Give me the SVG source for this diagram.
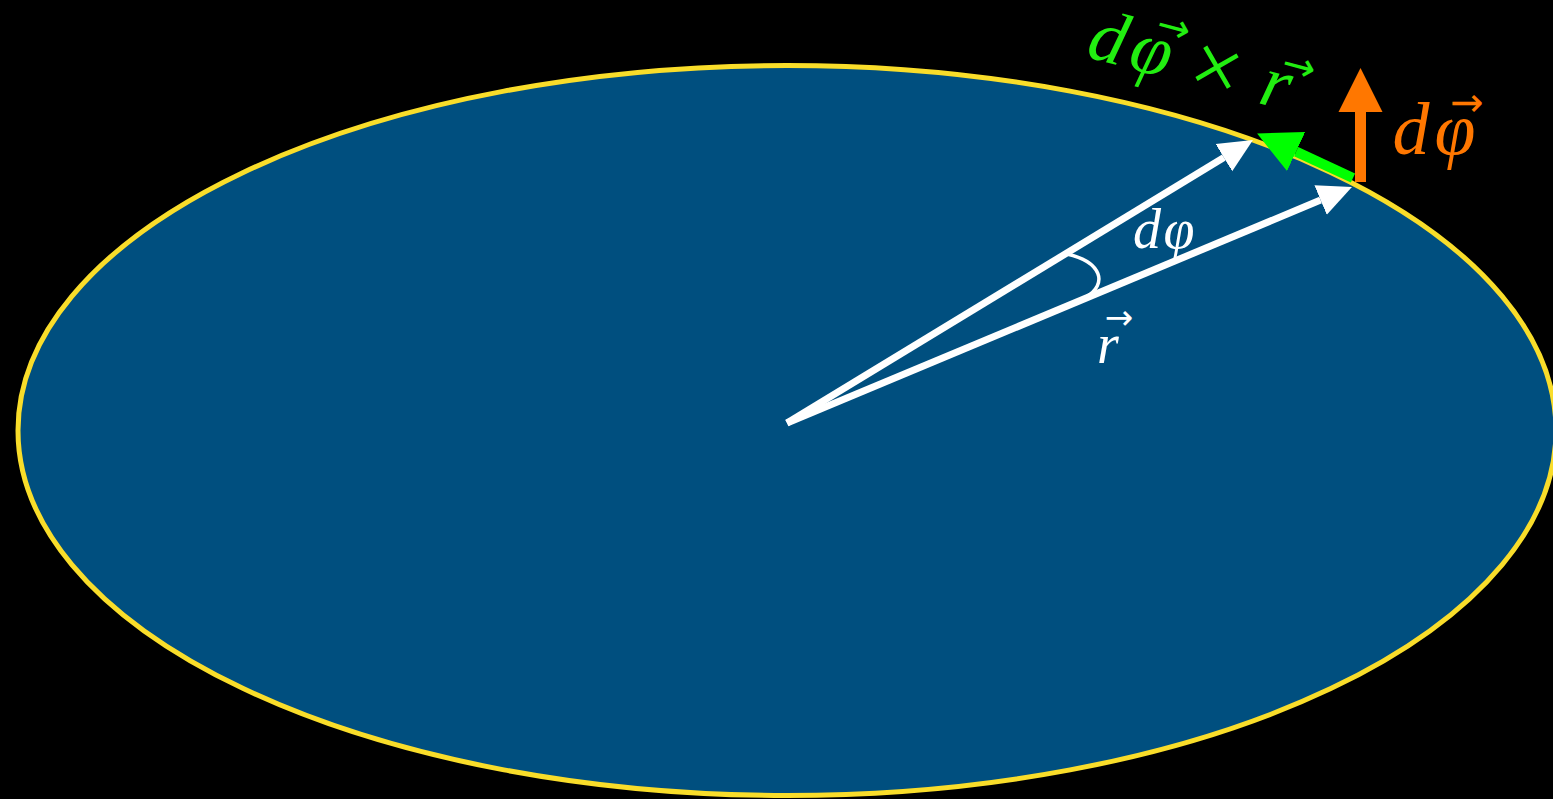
<svg xmlns="http://www.w3.org/2000/svg" width="1553" height="799" viewBox="0 0 1553 799">
<style>
  .m { font-family: "Liberation Serif", "DejaVu Serif", serif; font-style: italic; text-anchor: middle; }
  .u { font-family: "Liberation Serif", "DejaVu Serif", serif; font-style: normal; text-anchor: middle; }
  .ar { font-family: "DejaVu Sans", sans-serif; font-style: normal; text-anchor: middle; }
  .w { fill: #ffffff; }
  .g { fill: #22ee11; }
  .o { fill: #ff7700; }
  .big { font-size: 74px; }
  .small { font-size: 56px; }
  .vbig { font-size: 40px; }
  .vsmall { font-size: 34px; }
  .vec { fill: none; stroke: #ffffff; stroke-width: 7; stroke-linecap: butt; }
</style>
<defs>
  <marker id="ahW" markerUnits="userSpaceOnUse" viewBox="0 -18 36 36" markerWidth="36" markerHeight="36" refX="0" refY="0" orient="auto">
    <path d="M0,-16 L34,0 L0,16 z" fill="#ffffff"/>
  </marker>
  <marker id="ahG" markerUnits="userSpaceOnUse" viewBox="0 -23 46 46" markerWidth="46" markerHeight="46" refX="0" refY="0" orient="auto">
    <path d="M0,-21.5 L43,0 L0,21.5 z" fill="#00ff00"/>
  </marker>
  <marker id="ahO" markerUnits="userSpaceOnUse" viewBox="0 -23 46 46" markerWidth="46" markerHeight="46" refX="0" refY="0" orient="auto">
    <path d="M0,-22 L44,0 L0,22 z" fill="#ff7700"/>
  </marker>
</defs>
<rect x="0" y="0" width="1553" height="799" fill="#000000"/>
<g id="disk">
  <ellipse cx="787" cy="430.5" rx="769" ry="365" fill="#004f7f" stroke="#f9dd2a" stroke-width="5"/>
</g>
<g id="connectors">
  <path id="r-upper" class="vec" d="M787,423 L1223.9,157.6" marker-end="url(#ahW)"/>
  <path id="r-lower" class="vec" d="M787,423 L1320.6,200.1" marker-end="url(#ahW)"/>
  <path id="angle-arc" d="M1067,254 C1102,262 1108,284 1086,297" fill="none" stroke="#ffffff" stroke-width="3.5"/>
  <path id="dphi-cross-r" d="M1353,178 L1296.1,151.6" fill="none" stroke="#00ff00" stroke-width="10" marker-end="url(#ahG)"/>
  <path id="dphi-vec" d="M1360.5,182 L1360.5,112" fill="none" stroke="#ff7700" stroke-width="11" marker-end="url(#ahO)"/>
</g>
<g id="label-dphi">
  <text class="m w small" x="1147" y="248">d</text>
  <text class="m w small" x="1179" y="248">φ</text>
</g>
<g id="label-r">
  <text class="m w small" x="1108" y="363">r</text>
  <text class="ar w vsmall" x="1119" y="329">→</text>
</g>
<g id="label-dphi-vec">
  <text class="m o big" x="1411" y="154">d</text>
  <text class="m o big" x="1455" y="154">φ</text>
  <text class="ar o vbig" x="1467" y="116">→</text>
</g>
<g id="label-cross" transform="translate(1090,58) rotate(15)">
  <text class="m g big" x="13" y="0">d</text>
  <text class="m g big" x="58" y="0">φ</text>
  <text class="u g" style="font-size:90px" x="125" y="6">×</text>
  <text class="m g big" x="187" y="0">r</text>
  <text class="ar g vbig" x="73" y="-38">→</text>
  <text class="ar g vbig" x="204" y="-33">→</text>
</g>
</svg>
